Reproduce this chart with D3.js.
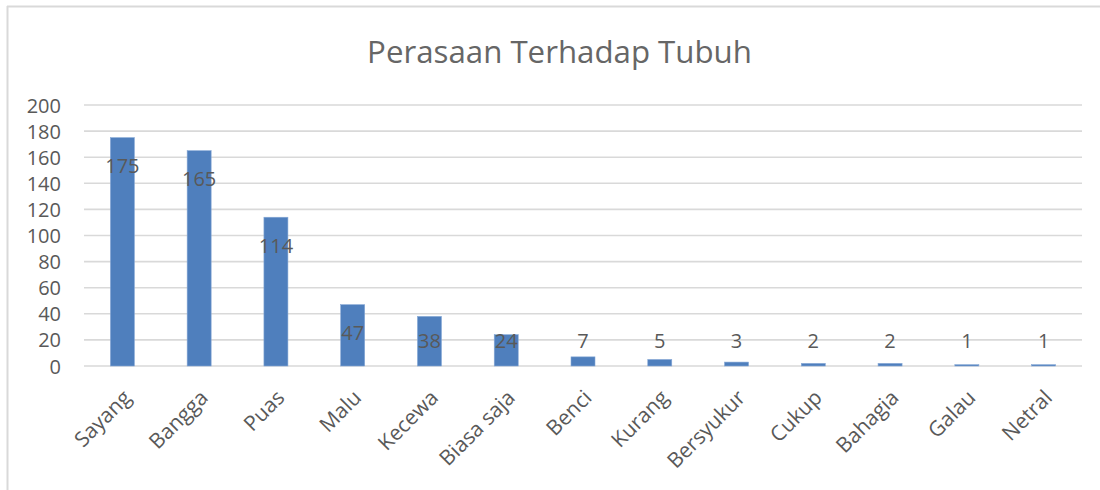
<!DOCTYPE html>
<html><head><meta charset="utf-8">
<script src="https://cdn.jsdelivr.net/npm/d3@7"></script>
<style>html,body{margin:0;padding:0;background:#fff;}</style>
</head><body><svg id="c" width="1100" height="490"></svg>
<script>
const title = "Perasaan Terhadap Tubuh";
const categories = ["Sayang","Bangga","Puas","Malu","Kecewa","Biasa saja","Benci","Kurang","Bersyukur","Cukup","Bahagia","Galau","Netral"];
const values = [175,165,114,47,38,24,7,5,3,2,2,1,1];
const yTicks = [0,20,40,60,80,100,120,140,160,180,200];

const svg = d3.select("#c");
const font = "'Open Sans', 'Noto Sans', sans-serif";
const textColor = "#595959";
const gridColor = "#d9d9d9";

// chart border (left and top visible)
svg.append("line").attr("x1",7.5).attr("x2",7.5).attr("y1",6).attr("y2",490).attr("stroke",gridColor).attr("stroke-width",2);
svg.append("line").attr("x1",7).attr("x2",1100).attr("y1",6.5).attr("y2",6.5).attr("stroke",gridColor).attr("stroke-width",2);

const x = d3.scaleBand().domain(categories).range([84,1082]).paddingInner(0).paddingOuter(0);
const y = d3.scaleLinear().domain([0,200]).range([366,105]);

// title
const t = svg.append("text").attr("x",559.5).attr("y",63).attr("text-anchor","middle")
  .attr("font-family",font).attr("font-size",27).attr("fill","#666666").text(title);
const tw = t.node().getComputedTextLength();
t.attr("font-size", 27*385/tw);

// y axis labels
const yAxis = d3.axisLeft(y).tickValues(yTicks).tickSize(0).tickPadding(0);
const gy = svg.append("g").attr("transform","translate(61,0)").call(yAxis);
gy.select(".domain").remove();
gy.selectAll("text").attr("font-family",font).attr("font-size",20).attr("fill",textColor).attr("dy","0.35em").attr("x",0);

// gridlines
svg.append("g").selectAll("line").data(yTicks).join("line")
  .attr("x1",84).attr("x2",1082).attr("y1",d=>y(d)).attr("y2",d=>y(d))
  .attr("stroke",gridColor).attr("stroke-width",1.6);

// bars
const bw = 24;
svg.append("g").selectAll("rect").data(values).join("rect")
  .attr("x",(d,i)=>x(categories[i])+x.bandwidth()/2-bw/2)
  .attr("width",bw)
  .attr("y",d=>y(d))
  .attr("height",d=>y(0)-y(d))
  .attr("fill","#4f7fbd").attr("stroke","#86a8d6").attr("stroke-width",0.6);

// data labels
svg.append("g").selectAll("text").data(values).join("text")
  .attr("x",(d,i)=>x(categories[i])+x.bandwidth()/2)
  .attr("y",d=>Math.min(y(d)+35.5, y(0)-18))
  .attr("text-anchor","middle").attr("font-family",font).attr("font-size",20)
  .attr("fill",textColor).text(d=>d);

// x axis labels
const xAxis = d3.axisBottom(x).tickSize(0).tickPadding(0);
const gx = svg.append("g").attr("transform","translate(0,366)").call(xAxis);
gx.select(".domain").remove();
gx.selectAll(".tick text")
  .attr("font-family",font).attr("font-size",21).attr("fill",textColor)
  .attr("text-anchor","end").attr("dy",0).attr("y",0)
  .attr("transform","translate(10,33) rotate(-45)");
</script>
</body></html>
